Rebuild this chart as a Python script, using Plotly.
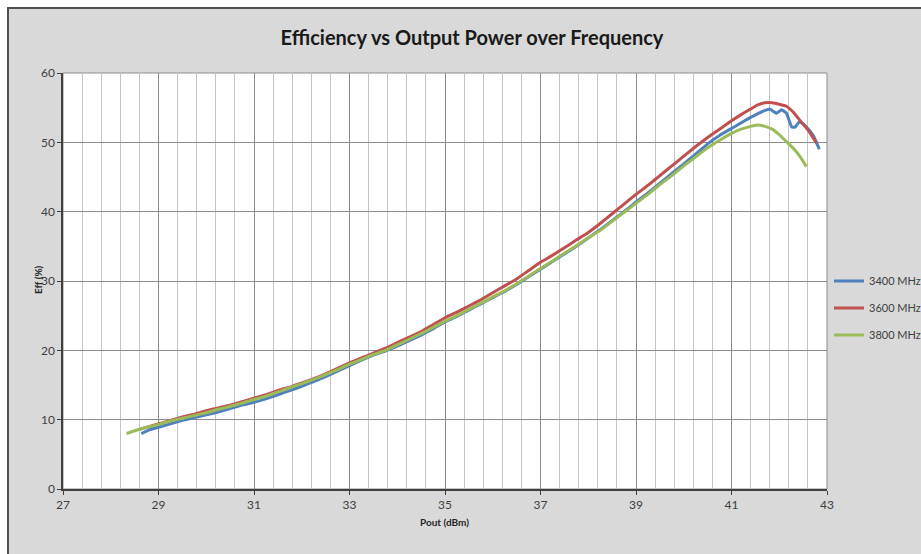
import plotly.graph_objects as go

# Drain efficiency (%) vs output power (dBm) at three carrier frequencies
pout_3400 = [28.64, 28.8, 29.0, 29.25, 29.5, 29.75, 30.0, 30.25, 30.5, 30.75, 31.0, 31.25, 31.5, 31.75,
             32.0, 32.25, 32.5, 32.75, 33.0, 33.25, 33.5, 33.75, 34.0, 34.25, 34.5, 34.75, 35.0, 35.25,
             35.5, 35.75, 36.0, 36.25, 36.5, 36.75, 37.0, 37.25, 37.5, 37.75, 38.0, 38.25, 38.5, 38.75,
             39.0, 39.25, 39.5, 39.75, 40.0, 40.25, 40.54, 40.75, 41.0, 41.2, 41.4, 41.6, 41.8, 41.94,
             42.05, 42.15, 42.26, 42.33, 42.43, 42.57, 42.71, 42.84]
eff_3400 = [8.0, 8.5, 8.9, 9.4, 9.9, 10.3, 10.7, 11.1, 11.6, 12.1, 12.5, 13.0, 13.6, 14.2,
            14.8, 15.5, 16.2, 17.0, 17.8, 18.6, 19.3, 19.9, 20.6, 21.4, 22.2, 23.1, 24.1, 24.9,
            25.8, 26.7, 27.6, 28.5, 29.5, 30.6, 31.7, 32.8, 33.9, 35.0, 36.2, 37.4, 38.7, 40.0,
            41.4, 42.7, 44.1, 45.5, 46.9, 48.3, 50.0, 51.0, 52.0, 52.8, 53.6, 54.3, 54.8, 54.2,
            54.7, 54.2, 52.2, 52.2, 53.0, 52.2, 51.0, 49.0]

pout_3600 = [28.6, 28.8, 29.0, 29.25, 29.5, 29.75, 30.0, 30.25, 30.5, 30.75, 31.0, 31.25, 31.5, 31.75,
             32.0, 32.25, 32.5, 32.75, 33.0, 33.25, 33.5, 33.75, 34.0, 34.25, 34.5, 34.75, 35.0, 35.25,
             35.5, 35.75, 36.0, 36.25, 36.5, 36.75, 37.0, 37.25, 37.5, 37.75, 38.0, 38.25, 38.5, 38.75,
             39.0, 39.25, 39.5, 39.75, 40.0, 40.25, 40.5, 40.75, 41.0, 41.2, 41.4, 41.55, 41.7, 41.85,
             42.0, 42.15, 42.3, 42.43, 42.6, 42.78]
eff_3600 = [8.6, 9.0, 9.4, 9.9, 10.4, 10.8, 11.3, 11.7, 12.1, 12.6, 13.1, 13.6, 14.2, 14.7,
            15.3, 15.9, 16.6, 17.4, 18.2, 18.9, 19.6, 20.3, 21.1, 21.9, 22.7, 23.7, 24.7, 25.5,
            26.4, 27.3, 28.3, 29.3, 30.3, 31.5, 32.7, 33.7, 34.8, 35.9, 37.0, 38.3, 39.7, 41.1,
            42.5, 43.8, 45.2, 46.6, 48.0, 49.4, 50.7, 51.9, 53.1, 54.0, 54.8, 55.4, 55.7, 55.7,
            55.5, 55.2, 54.3, 53.2, 51.8, 49.9]

pout_3800 = [28.33, 28.5, 28.75, 29.0, 29.25, 29.5, 29.75, 30.0, 30.25, 30.5, 30.75, 31.0, 31.25, 31.5,
             31.75, 32.0, 32.25, 32.5, 32.75, 33.0, 33.25, 33.5, 33.75, 34.0, 34.25, 34.5, 34.75, 35.0,
             35.25, 35.5, 35.75, 36.0, 36.25, 36.5, 36.75, 37.0, 37.25, 37.5, 37.75, 38.0, 38.25, 38.5,
             38.75, 39.0, 39.25, 39.5, 39.75, 40.0, 40.25, 40.5, 40.75, 41.0, 41.2, 41.4, 41.55, 41.7,
             41.85, 42.0, 42.15, 42.3, 42.45, 42.57]
eff_3800 = [8.0, 8.4, 8.9, 9.3, 9.8, 10.2, 10.6, 11.0, 11.5, 11.9, 12.4, 12.9, 13.4, 14.0,
            14.6, 15.2, 15.8, 16.5, 17.2, 18.0, 18.7, 19.4, 20.0, 20.8, 21.6, 22.4, 23.3, 24.2,
            25.0, 25.9, 26.8, 27.7, 28.6, 29.6, 30.7, 31.8, 32.9, 34.0, 35.1, 36.2, 37.3, 38.6,
            39.9, 41.2, 42.5, 43.9, 45.2, 46.6, 47.9, 49.2, 50.3, 51.3, 51.9, 52.3, 52.5, 52.3,
            51.9, 51.1, 50.1, 49.1, 47.8, 46.5]

series_names = ["3400 MHz", "3600 MHz", "3800 MHz"]
series_colors = ["#4F81BD", "#C0504D", "#9BBB59"]

W, H = 921, 554
ML, MR, MT, MB = 63, 94, 73, 65
PW, PH = W - ML - MR, H - MT - MB

def px_x(p):
    return (p - ML) / PW

def px_y(p):
    return (H - MB - p) / PH

FONT = "Lato, 'Open Sans', sans-serif"
TXT = "#404040"

fig = go.Figure()
for name, color, xs, ys in zip(series_names, series_colors,
                               [pout_3400, pout_3600, pout_3800],
                               [eff_3400, eff_3600, eff_3800]):
    fig.add_trace(go.Scatter(x=xs, y=ys, mode="lines", name=name, legendgroup=name,
                             line=dict(color=color, width=3, shape="spline", smoothing=0.3)))

shapes = [
    # chart area with its dark top/left frame
    dict(type="rect", xref="paper", yref="paper", layer="below",
         x0=px_x(8), x1=px_x(W + 10), y0=px_y(H + 10), y1=px_y(8),
         fillcolor="#d9d9d9", line=dict(color="#505050", width=2)),
    # white plot area
    dict(type="rect", xref="paper", yref="paper", layer="below",
         x0=0, x1=1, y0=0, y1=1, fillcolor="#ffffff", line=dict(color="#8c8c8c", width=1)),
]

annotations = [
    dict(text="<b>Eff (%)</b>", xref="paper", yref="paper", x=px_x(30), y=px_y(280),
         textangle=-90, showarrow=False, font=dict(family=FONT, size=10, color="#262626")),
    dict(text="<b>Pout (dBm)</b>", xref="paper", yref="paper", x=px_x(444), y=px_y(530),
         showarrow=False, font=dict(family=FONT, size=10, color="#262626")),
]

fig.update_layout(
    width=W, height=H,
    margin=dict(l=ML, r=MR, t=MT, b=MB, autoexpand=False),
    paper_bgcolor="#ffffff",
    plot_bgcolor="rgba(0,0,0,0)",
    title=dict(text="<b>Efficiency vs Output Power over Frequency</b>",
               x=472 / W, xanchor="center", xref="container",
               y=1 - 38 / H, yanchor="middle", yref="container",
               font=dict(family=FONT, size=20, color="#1a1a1a")),
    shapes=shapes,
    annotations=annotations,
    showlegend=True,
    legend=dict(x=px_x(829), xanchor="left", y=px_y(308), yanchor="middle",
                bgcolor="rgba(0,0,0,0)", tracegroupgap=8,
                font=dict(family=FONT, size=11, color=TXT)),
    xaxis=dict(range=[27, 43], tick0=27, dtick=2, showgrid=True, gridcolor="#8c8c8c", gridwidth=1,
               minor=dict(dtick=0.4, tick0=27, showgrid=True, gridcolor="#c4c4c4", gridwidth=1),
               showline=True, linecolor="#404040", linewidth=1.5, zeroline=False,
               ticks="outside", ticklen=4, tickcolor="#404040",
               tickfont=dict(family=FONT, size=12, color=TXT)),
    yaxis=dict(range=[0, 60], dtick=10, showgrid=True, gridcolor="#8c8c8c", gridwidth=1,
               showline=True, linecolor="#404040", linewidth=1.5, zeroline=False,
               ticks="outside", ticklen=4, tickcolor="#404040",
               tickfont=dict(family=FONT, size=12, color=TXT)),
)

fig.write_html("out.html")
